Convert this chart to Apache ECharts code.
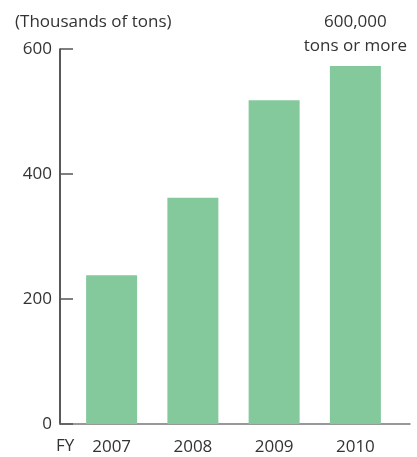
<!DOCTYPE html>
<html>
<head>
<meta charset="utf-8">
<script src="https://cdn.jsdelivr.net/npm/echarts@6/dist/echarts.min.js"></script>
<style>
  html, body { margin: 0; padding: 0; background: #fff; }
  #chart { width: 417px; height: 457px; }
</style>
</head>
<body>
<div id="chart"></div>
<script>
// values (thousands of tons)
const years = ['2007', '2008', '2009', '2010']
const volumes = [238, 362, 518, 573]
const yTicks = [0, 200, 400, 600]
const unitText = '(Thousands of tons)'
const noteText = '600,000\ntons or more'

const font = '"Open Sans", "Noto Sans", sans-serif'
const textColor = '#333'
const barColor = '#83c99c'

const chart = echarts.init(document.getElementById('chart'))

const barData = volumes.map((v, i) => {
  if (i !== volumes.length - 1) return v
  // last bar carries the note above it
  return {
    value: v,
    label: {
      show: true,
      position: 'top',
      distance: 8,
      formatter: noteText,
      color: textColor,
      fontFamily: font,
      fontSize: 17,
      lineHeight: 24
    }
  }
})

const option = {
  animation: false,
  textStyle: { fontFamily: font },
  grid: [
    { left: 71, right: 21, top: 49, bottom: 33 },
    // only used for the long baseline
    { left: 60, right: 7, top: 49, bottom: 33 }
  ],
  title: {
    text: unitText,
    left: 10,
    top: 9,
    textStyle: { color: textColor, fontFamily: font, fontSize: 17, fontWeight: 'normal' }
  },
  graphic: [
    {
      type: 'text',
      left: 56,
      top: 438,
      style: { text: 'FY', fill: textColor, font: '17px ' + font }
    }
  ],
  xAxis: [
    {
      type: 'category',
      gridIndex: 0,
      data: years,
      axisLine: { show: false },
      axisTick: { show: false },
      axisLabel: { color: textColor, fontSize: 17, margin: 15 }
    },
    {
      type: 'value',
      gridIndex: 1,
      min: 0,
      max: 1,
      axisLine: { show: true, lineStyle: { color: '#777', width: 1.5 } },
      axisTick: { show: false },
      axisLabel: { show: false },
      splitLine: { show: false }
    }
  ],
  yAxis: [
    {
      type: 'value',
      gridIndex: 0,
      min: yTicks[0],
      max: yTicks[yTicks.length - 1],
      interval: 200,
      offset: 11,
      axisLine: { show: true, lineStyle: { color: '#222', width: 1.5 } },
      axisTick: { show: true, inside: true, length: 13, lineStyle: { color: '#555', width: 1.5 } },
      axisLabel: { color: textColor, fontSize: 17, margin: 8 },
      splitLine: { show: false }
    },
    {
      type: 'value',
      gridIndex: 1,
      min: 0,
      max: 1,
      show: false
    }
  ],
  series: [
    {
      type: 'bar',
      xAxisIndex: 0,
      yAxisIndex: 0,
      barWidth: 51,
      itemStyle: { color: barColor },
      data: barData
    }
  ]
}

chart.setOption(option)
</script>
</body>
</html>
